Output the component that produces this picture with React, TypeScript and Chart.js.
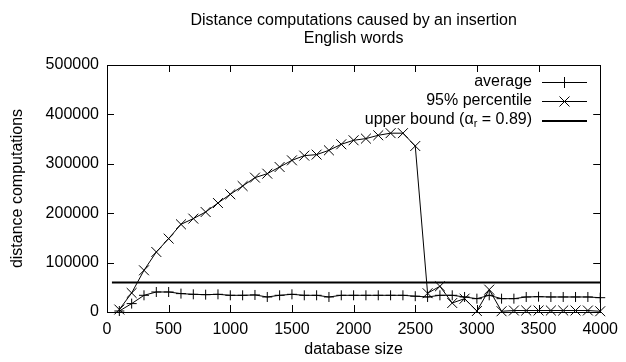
import { useEffect, useRef } from 'react';
import { Chart, registerables } from 'chart.js';

Chart.register(...registerables);

const sizes = [
  100, 200, 300, 400, 500, 600, 700, 800, 900, 1000,
  1100, 1200, 1300, 1400, 1500, 1600, 1700, 1800, 1900, 2000,
  2100, 2200, 2300, 2400, 2500, 2600, 2700, 2800, 2900, 3000,
  3100, 3200, 3300, 3400, 3500, 3600, 3700, 3800, 3900, 4000,
];

const averageValues = [
  2000, 17000, 33800, 40500, 40500, 37200, 35800, 35100, 35800, 33800,
  33800, 34500, 30400, 33800, 35800, 33800, 33800, 30400, 33800, 33800,
  33800, 33800, 33800, 33800, 32000, 30400, 33800, 33800, 30400, 27000,
  33800, 27000, 27000, 30400, 31000, 30400, 30400, 30400, 30400, 29000,
];

const percentile95Values = [
  5000, 38500, 84400, 121500, 148600, 177500, 189000, 202400, 220600, 238300,
  255000, 272000, 280000, 293500, 307000, 316500, 318600, 327300, 339500, 347600,
  351000, 357700, 362000, 362000, 336000, 38000, 52000, 18200, 27000, 2000,
  45300, 1500, 3000, 3000, 3000, 3000, 3000, 3000, 3000, 1500,
];

const boundX = [40, 4000];
const boundY = [59500, 59500];

const titleLines = ['Distance computations caused by an insertion', 'English words'];
const xTitle = 'database size';
const yTitle = 'distance computations';
const legendLabels = ['average', '95% percentile'];
const boundLabelParts = ['upper bound (\u03b1', 'r', ' = 0.89)'];

const FAMILY = "'Liberation Sans', Arial, sans-serif";
const FS = 16;

const decor = {
  id: 'decor',
  afterDraw(chart: any) {
    const ctx = chart.ctx as CanvasRenderingContext2D;
    const { left, right, top, bottom } = chart.chartArea;
    const xs = chart.scales.x;
    const ys = chart.scales.y;
    ctx.save();
    ctx.strokeStyle = '#000';
    ctx.fillStyle = '#000';
    ctx.lineWidth = 1;
    // frame
    ctx.strokeRect(Math.round(left) + 0.5, Math.round(top) + 0.5, Math.round(right - left), Math.round(bottom - top));
    // inward ticks
    const TL = 7;
    ctx.beginPath();
    xs.ticks.forEach((t: any) => {
      const px = Math.round(xs.getPixelForValue(t.value)) + 0.5;
      ctx.moveTo(px, bottom);
      ctx.lineTo(px, bottom - TL);
      ctx.moveTo(px, top);
      ctx.lineTo(px, top + TL);
    });
    ys.ticks.forEach((t: any) => {
      const py = Math.round(ys.getPixelForValue(t.value)) + 0.5;
      ctx.moveTo(left, py);
      ctx.lineTo(left + TL, py);
      ctx.moveTo(right, py);
      ctx.lineTo(right - TL, py);
    });
    ctx.stroke();

    // titles
    ctx.font = `${FS}px ${FAMILY}`;
    ctx.textAlign = 'center';
    ctx.textBaseline = 'alphabetic';
    const cx = (left + right) / 2;
    ctx.fillText(titleLines[0], cx, 25);
    ctx.fillText(titleLines[1], cx, 43);
    // x axis title
    ctx.textBaseline = 'middle';
    ctx.fillText(xTitle, cx, 350);
    // y axis title
    ctx.save();
    ctx.translate(18, (top + bottom) / 2);
    ctx.rotate(-Math.PI / 2);
    ctx.fillText(yTitle, 0, 0);
    ctx.restore();

    // legend
    const textRight = 532;
    const sx0 = 542;
    const sx1 = 587;
    const sxm = (sx0 + sx1) / 2;
    const rows = [82, 101, 120];
    ctx.textAlign = 'right';
    ctx.textBaseline = 'middle';
    ctx.fillText(legendLabels[0], textRight, rows[0]);
    ctx.fillText(legendLabels[1], textRight, rows[1]);
    // subscript label
    const smallFont = `${Math.round(FS * 0.7)}px ${FAMILY}`;
    const bigFont = `${FS}px ${FAMILY}`;
    ctx.font = bigFont;
    const w0 = ctx.measureText(boundLabelParts[0]).width;
    const w2 = ctx.measureText(boundLabelParts[2]).width;
    ctx.font = smallFont;
    const w1 = ctx.measureText(boundLabelParts[1]).width;
    const x0 = textRight - (w0 + w1 + w2);
    ctx.textAlign = 'left';
    ctx.font = bigFont;
    ctx.fillText(boundLabelParts[0], x0, rows[2]);
    ctx.font = smallFont;
    ctx.fillText(boundLabelParts[1], x0 + w0, rows[2] + 4);
    ctx.font = bigFont;
    ctx.fillText(boundLabelParts[2], x0 + w0 + w1, rows[2]);

    ctx.beginPath();
    ctx.lineWidth = 1;
    ctx.moveTo(sx0, rows[0] + 0.5);
    ctx.lineTo(sx1, rows[0] + 0.5);
    ctx.moveTo(sxm, rows[0] - 5);
    ctx.lineTo(sxm, rows[0] + 6);
    ctx.moveTo(sx0, rows[1] + 0.5);
    ctx.lineTo(sx1, rows[1] + 0.5);
    ctx.moveTo(sxm - 5, rows[1] - 4.5);
    ctx.lineTo(sxm + 5, rows[1] + 5.5);
    ctx.moveTo(sxm + 5, rows[1] - 4.5);
    ctx.lineTo(sxm - 5, rows[1] + 5.5);
    ctx.stroke();
    ctx.beginPath();
    ctx.lineWidth = 2;
    ctx.moveTo(sx0, rows[2] + 1);
    ctx.lineTo(sx1, rows[2] + 1);
    ctx.stroke();
    ctx.restore();
  },
};

export default function App() {
  const ref = useRef<HTMLCanvasElement | null>(null);
  useEffect(() => {
    if (!ref.current) return;
    const font = { family: FAMILY, size: FS };
    const chart = new Chart(ref.current, {
      type: 'line',
      data: {
        datasets: [
          {
            label: 'average',
            data: sizes.map((x, i) => ({ x, y: averageValues[i] })),
            borderColor: '#000',
            borderWidth: 1,
            pointStyle: 'cross',
            pointRadius: 5,
            pointBorderColor: '#000',
            pointBorderWidth: 1,
            tension: 0,
            fill: false,
            clip: false,
          } as any,
          {
            label: '95% percentile',
            data: sizes.map((x, i) => ({ x, y: percentile95Values[i] })),
            borderColor: '#000',
            borderWidth: 1,
            pointStyle: 'crossRot',
            pointRadius: 7,
            pointBorderColor: '#000',
            pointBorderWidth: 1,
            tension: 0,
            fill: false,
            clip: false,
          } as any,
          {
            label: 'upper bound',
            data: boundX.map((x, i) => ({ x, y: boundY[i] })),
            borderColor: '#000',
            borderWidth: 2,
            pointRadius: 0,
            tension: 0,
            fill: false,
          } as any,
        ],
      },
      options: {
        responsive: false,
        animation: false,
        devicePixelRatio: 1,
        layout: { padding: { top: 65, right: 21, left: 0, bottom: 0 } },
        plugins: {
          legend: { display: false },
          title: { display: false },
          tooltip: { enabled: false },
        },
        scales: {
          x: {
            type: 'linear',
            min: 0,
            max: 4000,
            ticks: { stepSize: 500, font, color: '#000', padding: 8, maxRotation: 0, callback: (v: any) => String(v) },
            grid: { display: false, drawTicks: false },
            border: { display: false },
            afterFit: (s: any) => {
              s.height = 50;
            },
          },
          y: {
            type: 'linear',
            min: 0,
            max: 500000,
            ticks: { stepSize: 100000, font, color: '#000', padding: 8, callback: (v: any) => String(v) },
            grid: { display: false, drawTicks: false },
            border: { display: false },
            afterFit: (s: any) => {
              s.width = 107;
            },
          },
        },
      } as any,
      plugins: [decor],
    });
    return () => chart.destroy();
  }, []);
  return (
    <div style={{ position: 'absolute', left: 0, top: 0, width: 626, height: 362, background: '#fff' }}>
      <canvas ref={ref} width={626} height={362} />
    </div>
  );
}
